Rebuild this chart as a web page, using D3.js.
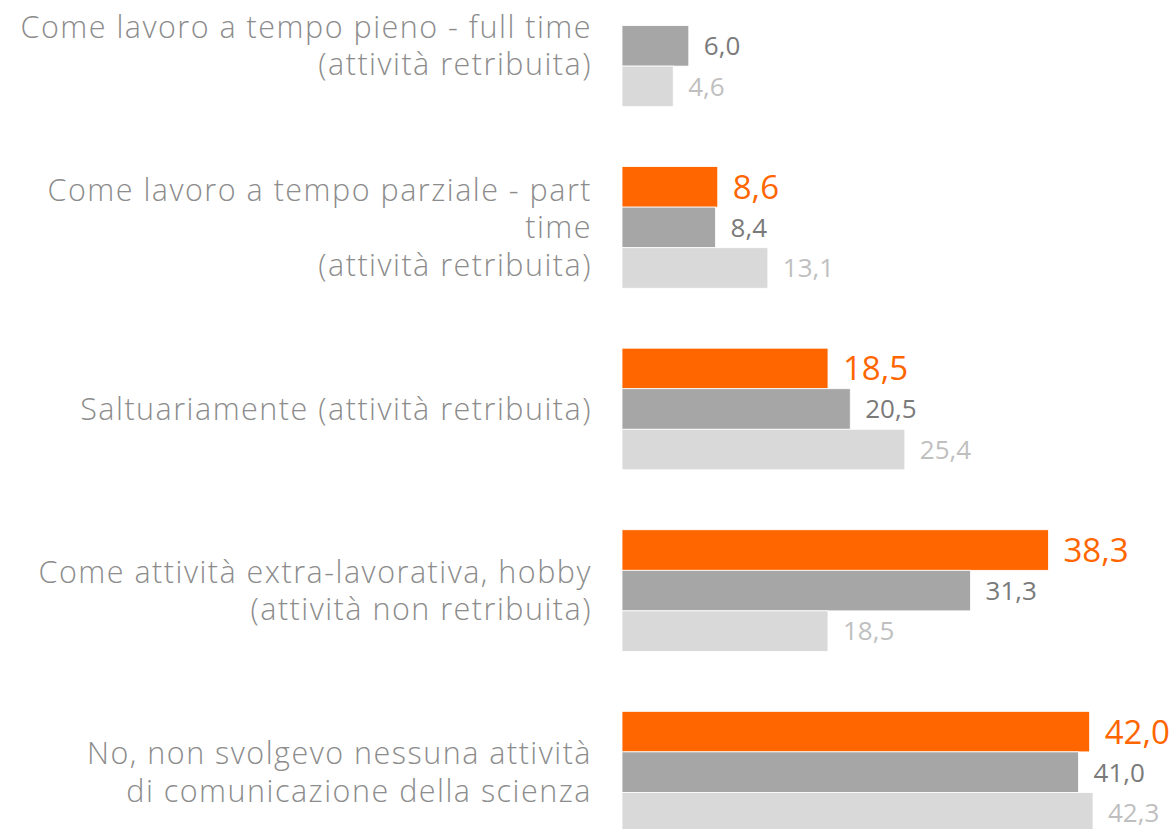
<!DOCTYPE html>
<html>
<head>
  <meta charset="utf-8">
  <script src="https://d3js.org/d3.v7.min.js"></script>
  <style>
    body { margin: 0; background: #fff; }
    .cat { font-family: "Open Sans", sans-serif; font-weight: 300; font-size: 30.5px; letter-spacing: 1.5px; fill: #8c8c8c; text-anchor: end; }
    .val { font-family: "Open Sans", sans-serif; }
  </style>
</head>
<body>
  <div id="chart"></div>
  <script>
    const categories = [
      "Come lavoro a tempo pieno - full time\n(attività retribuita)",
      "Come lavoro a tempo parziale - part\ntime\n(attività retribuita)",
      "Saltuariamente (attività retribuita)",
      "Come attività extra-lavorativa, hobby\n(attività non retribuita)",
      "No, non svolgevo nessuna attività\ndi comunicazione della scienza"
    ];
    const seriesNames = ["s1", "s2", "s3"];
    const s1Values = [null, 8.6, 18.5, 38.3, 42.0];
    const s2Values = [6.0, 8.4, 20.5, 31.3, 41.0];
    const s3Values = [4.6, 13.1, 25.4, 18.5, 42.3];

    const W = 1175, H = 829;
    const barColors = {s1: "#ff6600", s2: "#a6a6a6", s3: "#d9d9d9"};
    const textColors = {s1: "#ff6600", s2: "#7a7a7a", s3: "#bfbfbf"};
    const textSizes = {s1: 33, s2: 26, s3: 26};

    const rows = categories.map((c, i) => ({
      cat: c,
      s1: s1Values[i], s2: s2Values[i], s3: s3Values[i]
    }));

    const svg = d3.select("#chart").append("svg")
      .attr("width", W).attr("height", H);

    const x = d3.scaleLinear().domain([0, 42.3]).range([622, 1093]);
    const y0 = d3.scaleBand().domain(categories).range([-15, 833]).paddingInner(0.33);
    const y1 = d3.scaleBand().domain(seriesNames).range([0, y0.bandwidth()]);

    const fmt = v => d3.format(".1f")(v).replace(".", ",");

    const g = svg.selectAll("g.group")
      .data(rows)
      .join("g")
        .attr("class", "group")
        .attr("transform", d => `translate(0,${y0(d.cat)})`);

    const items = g.selectAll("g.item")
      .data(d => seriesNames.filter(k => d[k] != null).map(k => ({key: k, value: d[k]})))
      .join("g").attr("class", "item");

    items.append("rect")
      .attr("x", x(0))
      .attr("y", d => y1(d.key))
      .attr("width", d => x(d.value) - x(0))
      .attr("height", y1.bandwidth())
      .attr("fill", d => barColors[d.key])
      .attr("stroke", "#fff")
      .attr("stroke-width", 0.8);

    items.append("text")
      .attr("class", "val")
      .attr("x", d => x(d.value) + 15)
      .attr("y", d => y1(d.key) + y1.bandwidth() / 2)
      .attr("dy", "0.36em")
      .attr("fill", d => textColors[d.key])
      .attr("font-size", d => textSizes[d.key])
      .text(d => fmt(d.value));

    // category labels
    const lineH = 37.5;
    g.append("text")
      .attr("class", "cat")
      .attr("x", 592)
      .attr("y", y0.bandwidth() / 2)
      .each(function(d) {
        const lines = d.cat.split("\n");
        const t = d3.select(this);
        lines.forEach((l, i) => {
          t.append("tspan")
            .attr("x", 592)
            .attr("y", y0.bandwidth() / 2 + (i - (lines.length - 1) / 2) * lineH)
            .attr("dy", "0.35em")
            .text(l);
        });
      });
  </script>
</body>
</html>
